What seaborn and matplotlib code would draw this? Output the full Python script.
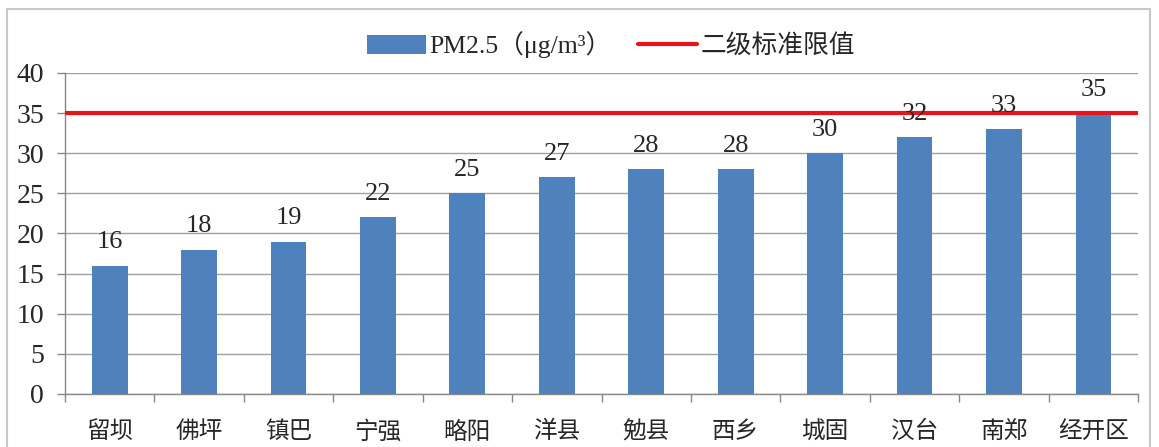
import matplotlib
matplotlib.use("Agg")
import matplotlib.pyplot as plt
import seaborn as sns
import pandas as pd
import numpy as np
from matplotlib.patches import Rectangle
from matplotlib.lines import Line2D
from matplotlib.patches import Patch

categories = ["留坝", "佛坪", "镇巴", "宁强", "略阳", "洋县", "勉县", "西乡", "城固", "汉台", "南郑", "经开区"]
pm25 = [16, 18, 19, 22, 25, 27, 28, 28, 30, 32, 33, 35]
standard_limit = 35
yticks = [0, 5, 10, 15, 20, 25, 30, 35, 40]

sns.set_theme(style="white")
plt.rcParams['font.family'] = ['Liberation Serif', 'Noto Sans CJK SC']

df = pd.DataFrame({"site": categories, "pm": pm25})

fig = plt.figure(figsize=(11.59, 4.47), dpi=100)
ax = fig.add_axes([0.056, 0.1186, 0.926, 0.7181])

bar_color = "#4F81BD"
sns.barplot(data=df, x="site", y="pm", color=bar_color, width=0.4, ax=ax,
            saturation=1, zorder=3, edgecolor='none', linewidth=0)
ax.axhline(standard_limit, color="#E8141B", lw=3.0, zorder=4)

ax.set_ylim(0, 40)
ax.set_xlim(-0.5, len(categories) - 0.5)
ax.set_yticks(yticks)
ax.set_yticklabels([str(v) for v in yticks], fontsize=20, family='Liberation Serif')
ax.set_xticks(range(len(categories)))
ax.set_xticklabels(categories, fontsize=17, family=['Noto Sans CJK SC'])
ax.set_xticks(np.arange(-0.5, len(categories), 1), minor=True)
ax.tick_params(axis='x', which='major', length=0, pad=19)
ax.tick_params(axis='x', which='minor', length=6, width=1, color="#888888", direction='out', bottom=True)
ax.tick_params(axis='y', which='major', length=6, width=1, color="#888888", direction='out', left=True, pad=9)
ax.set_xlabel("")
ax.set_ylabel("")
ax.yaxis.grid(True, color="#a0a0a0", lw=1, zorder=0)
ax.set_axisbelow(True)
for s in ["top", "right"]:
    ax.spines[s].set_visible(False)
for s in ["left", "bottom"]:
    ax.spines[s].set_color("#888888")
    ax.spines[s].set_linewidth(1)

for cont in ax.containers:
    ax.bar_label(cont, labels=[str(v) for v in pm25], padding=9, fontsize=19,
                 family='Liberation Serif', zorder=5)

handles = [Patch(facecolor=bar_color, edgecolor='none'),
           Line2D([0], [0], color="#E8141B", lw=3.0)]
leg = fig.legend(handles, ["PM2.5（μg/m³）", "二级标准限值"], loc='center',
                 bbox_to_anchor=(0.527, 0.9), ncol=2, frameon=False,
                 fontsize=18.5, handlelength=2.3, handleheight=0.75,
                 columnspacing=1.0, handletextpad=0.15)

fig.patches.append(Rectangle((0.006, -0.01), 0.986, 0.99, transform=fig.transFigure,
                             fill=False, edgecolor="#c8c8c8", lw=1.5))

fig.savefig("out.png", dpi=100)
